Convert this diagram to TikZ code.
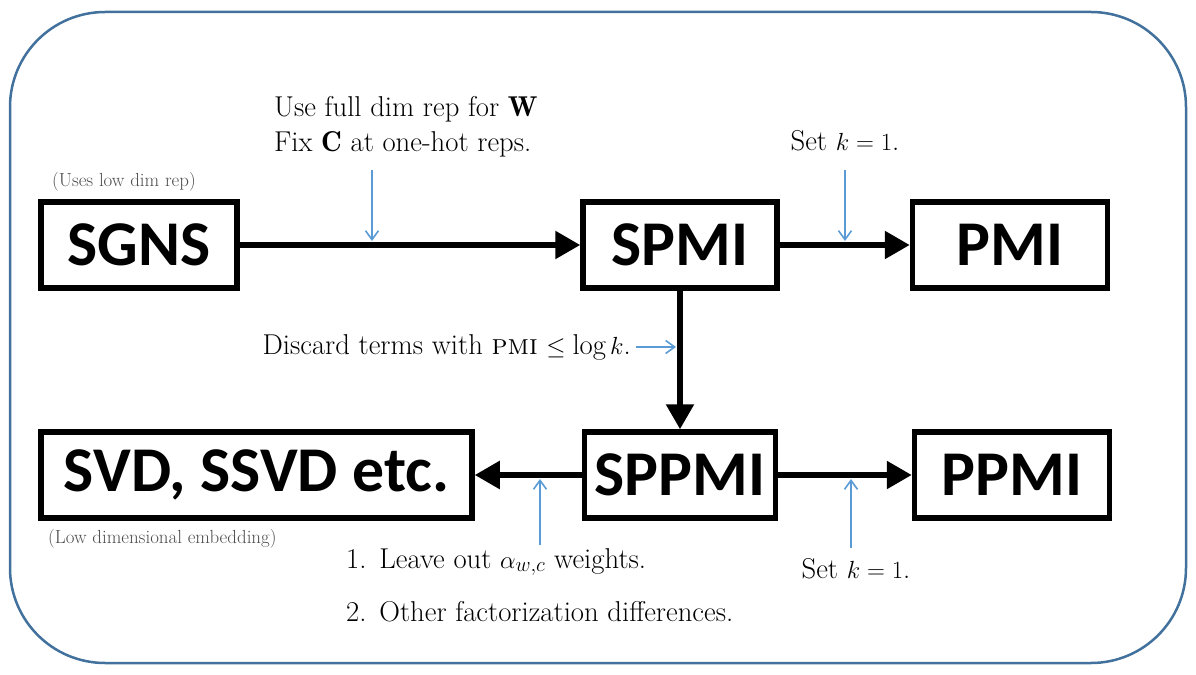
\documentclass[tikz,border=0pt]{standalone}
\usepackage{fontspec}
\newfontfamily\boxfont{Carlito}
\usetikzlibrary{arrows.meta}
\definecolor{frameblue}{HTML}{41719C}
\definecolor{noteblue}{HTML}{5B9BD5}
\begin{document}
\begin{tikzpicture}[x=1bp,y=-1bp,
  box/.style={draw, line width=5.5bp, inner sep=0pt, minimum height=86bp,
    font=\boxfont\bfseries\fontsize{64}{64}\selectfont},
  flow/.style={line width=5.5bp, -{Triangle[length=25bp,width=27bp]}},
  note/.style={noteblue, line width=1.6bp, -{Straight Barb[length=9bp,width=13bp]}},
  txt/.style={inner sep=0pt, font=\fontsize{28.8}{35}\selectfont},
  small/.style={inner sep=0pt, text=black!70, font=\fontsize{19}{21}\selectfont}]
\useasboundingbox (0,0) rectangle (1196,675);
\draw[frameblue, line width=2.5bp, rounded corners=95bp] (10,12) rectangle (1186,663);

\node[box, minimum width=196bp] (1) at (139,245) {SGNS};
\node[box, minimum width=194bp] (2) at (680,245) {SPMI};
\node[box, minimum width=195bp] (3) at (1010,245) {PMI};
\node[box, minimum width=431bp] (4) at (256.5,475) {SVD, SSVD etc.};
\node[box, minimum width=191bp] (5) at (680,475) {SPPMI};
\node[box, minimum width=195bp] (6) at (1012,475) {PPMI};

\draw[flow] (1) -- (2);
\draw[flow] (2) -- (3);
\draw[flow] (2) -- (5);
\draw[flow] (5) -- (4);
\draw[flow] (5) -- (6);

\node[small, anchor=base west] (s1) at (52,187) {(Uses low dim rep)};
\node[small, anchor=base west] (s2) at (48,543) {(Low dimensional embedding)};

\node[txt, align=left, anchor=north west] (t1) at (274,96) {Use full dim rep for $\mathbf{W}$\\Fix $\mathbf{C}$ at one-hot reps.};
\node[txt, anchor=base] (t2) at (845,151) {Set $k=1$.};
\node[txt, anchor=base east] (t3) at (631,354) {Discard terms with {\scshape pmi} $\leq\log k$.};
\node[txt, align=left, anchor=north west] (t4) at (346,548) {1.\hspace{.45em}Leave out $\alpha_{w,c}$ weights.\\[19bp]2.\hspace{.45em}Other factorization differences.};
\node[txt, anchor=base] (t5) at (856,578) {Set $k=1$.};

% blue notes pointing at the flow arrows
\coordinate (n1) at (372,170); \coordinate (m1) at (372,241);
\coordinate (n2) at (845,170); \coordinate (m2) at (845,241);
\coordinate (n3) at (636,347); \coordinate (m3) at (676,347);
\coordinate (n4) at (540,545); \coordinate (m4) at (540,479);
\coordinate (n5) at (851,548); \coordinate (m5) at (851,479);
\draw[note] (n1) -- (m1);
\draw[note] (n2) -- (m2);
\draw[note] (n3) -- (m3);
\draw[note] (n4) -- (m4);
\draw[note] (n5) -- (m5);
\end{tikzpicture}
\end{document}
